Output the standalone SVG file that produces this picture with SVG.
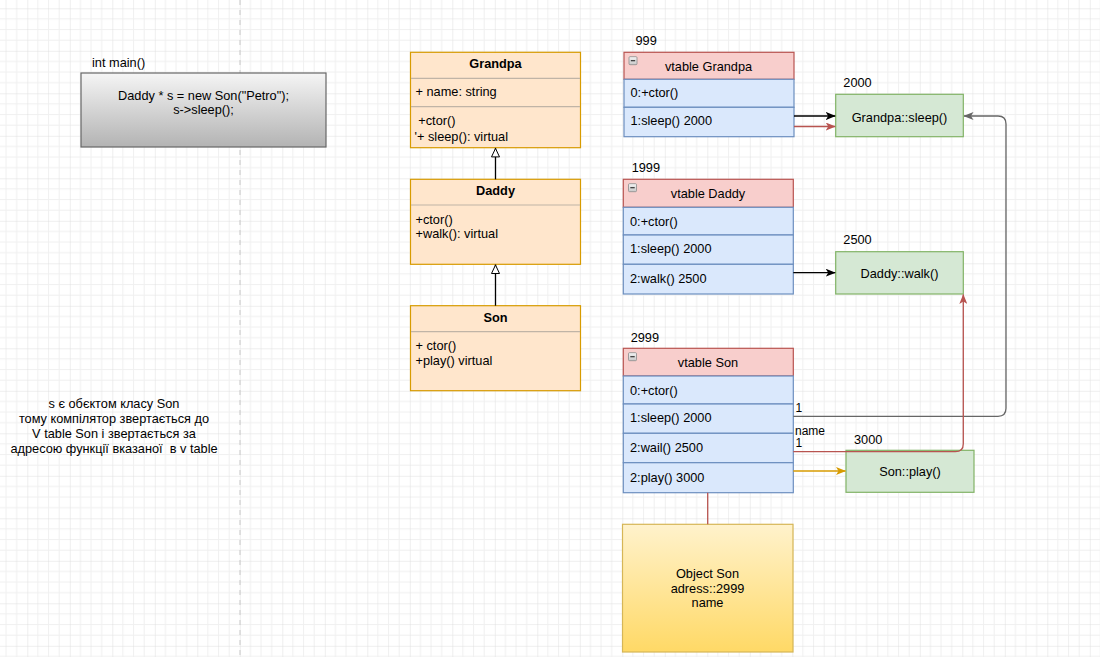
<svg xmlns="http://www.w3.org/2000/svg" width="1100" height="657" viewBox="0 0 1100 657">
  <defs>
    <!-- drawing grid: minor every 10.625px, major every 42.5px -->
    <pattern id="grid" patternUnits="userSpaceOnUse" x="27.3" y="8.3" width="42.5" height="42.5">
      <path d="M10.625,0 V42.5 M21.25,0 V42.5 M31.875,0 V42.5 M0,10.625 H42.5 M0,21.25 H42.5 M0,31.875 H42.5" stroke="#f0f0f0" stroke-width="1" fill="none"/>
      <path d="M0,0 V42.5 M0,0 H42.5" stroke="#dedede" stroke-width="1" fill="none"/>
    </pattern>
    <linearGradient id="gradMain" x1="0" y1="0" x2="0" y2="1">
      <stop offset="0" stop-color="#f5f5f5"/>
      <stop offset="1" stop-color="#b3b3b3"/>
    </linearGradient>
    <linearGradient id="gradObj" x1="0" y1="0" x2="0" y2="1">
      <stop offset="0" stop-color="#fff2cc"/>
      <stop offset="1" stop-color="#ffd966"/>
    </linearGradient>
    <linearGradient id="gradIcon" x1="0" y1="0" x2="0" y2="1">
      <stop offset="0" stop-color="#f4f4f4"/>
      <stop offset="1" stop-color="#c8c8c8"/>
    </linearGradient>
    <marker id="arrBlack" viewBox="0 0 10 8" refX="9.5" refY="4" markerWidth="10" markerHeight="8" markerUnits="userSpaceOnUse" orient="auto">
      <path d="M0,0 L10,4 L0,8 L2.5,4 z" fill="#000"/>
    </marker>
    <marker id="arrRed" viewBox="0 0 10 8" refX="9.5" refY="4" markerWidth="10" markerHeight="8" markerUnits="userSpaceOnUse" orient="auto">
      <path d="M0,0 L10,4 L0,8 L2.5,4 z" fill="#b85450"/>
    </marker>
    <marker id="arrGray" viewBox="0 0 10 8" refX="9.5" refY="4" markerWidth="10" markerHeight="8" markerUnits="userSpaceOnUse" orient="auto">
      <path d="M0,0 L10,4 L0,8 L2.5,4 z" fill="#666"/>
    </marker>
    <marker id="arrOrange" viewBox="0 0 10 8" refX="9.5" refY="4" markerWidth="10" markerHeight="8" markerUnits="userSpaceOnUse" orient="auto">
      <path d="M0,0 L10,4 L0,8 L2.5,4 z" fill="#d79b00"/>
    </marker>
    <marker id="inherit" viewBox="0 0 10 10" refX="10" refY="5" markerWidth="10" markerHeight="10" markerUnits="userSpaceOnUse" orient="auto">
      <path d="M1,1 L9.5,5 L1,9 z" fill="#fff" stroke="#000" stroke-width="1"/>
    </marker>
  </defs>
  <style>
    text { font-family: "Liberation Sans", Arial, "Noto Sans", sans-serif; font-size: 12.75px; fill: #000; white-space: pre; }
    .c { text-anchor: middle; }
    .b { font-weight: bold; }
    .lbl { font-size: 12px; }
    .cls { fill: #ffe6cc; stroke: #d79b00; stroke-width: 1.2; }
    .div { stroke: #c0b4a6; stroke-width: 1.2; }
    .vhead { fill: #f8cecc; stroke: #b85450; stroke-width: 1.2; }
    .vrow { fill: #dae8fc; stroke: #6c8ebf; stroke-width: 1.2; }
    .fn { fill: #d5e8d4; stroke: #82b366; stroke-width: 1.2; }
    .edge { fill: none; stroke-width: 1.3; }
  </style>

  <rect width="1100" height="657" fill="#fff"/>
  <rect width="1100" height="657" fill="url(#grid)"/>
  <!-- page break -->
  <line x1="240" y1="0" x2="240" y2="657" stroke="#c8c8c8" stroke-width="1" stroke-dasharray="5,5"/>

  <g id="main">
    <text x="92" y="66.5">int main()</text>
    <rect x="81" y="73" width="245" height="74" fill="url(#gradMain)" stroke="#666" stroke-width="1.2"/>
    <text class="c" x="203.5" y="99.5">Daddy * s = new Son("Petro");</text>
    <text class="c" x="203.5" y="114">s-&gt;sleep();</text>
  </g>

  <g id="note">
    <text class="c" x="114" y="408.3">s є обєктом класу Son</text>
    <text class="c" x="114" y="423.3">тому компілятор звертається до</text>
    <text class="c" x="114" y="438.3">V table Son і звертається за</text>
    <text class="c" x="114" y="453.3" xml:space="preserve">адресою функції вказаної  в v table</text>
  </g>

  <g id="class-grandpa">
    <rect class="cls" x="410.5" y="52.3" width="170" height="95.4"/>
    <line class="div" x1="411" y1="78.3" x2="580" y2="78.3"/>
    <line class="div" x1="411" y1="106.7" x2="580" y2="106.7"/>
    <text class="c b" x="495.5" y="68.3">Grandpa</text>
    <text x="415.5" y="95.7">+ name: string</text>
    <text x="418.3" y="125">+ctor()</text>
    <text x="414.5" y="141">'+ sleep(): virtual</text>
  </g>

  <g id="class-daddy">
    <rect class="cls" x="410.5" y="179.3" width="170" height="85"/>
    <line class="div" x1="411" y1="205" x2="580" y2="205"/>
    <text class="c b" x="495.5" y="195">Daddy</text>
    <text x="415.5" y="224">+ctor()</text>
    <text x="415.5" y="238.3">+walk(): virtual</text>
  </g>

  <g id="class-son">
    <rect class="cls" x="410.5" y="305.7" width="170" height="85"/>
    <line class="div" x1="411" y1="331.7" x2="580" y2="331.7"/>
    <text class="c b" x="495.5" y="321.7">Son</text>
    <text x="415.5" y="350">+ ctor()</text>
    <text x="415.5" y="365">+play() virtual</text>
  </g>

  <g id="vtable-grandpa">
    <text x="635.5" y="45">999</text>
    <rect class="vhead" x="624" y="52.3" width="170" height="27"/>
    <rect x="629" y="56.7" width="8" height="8" rx="1" fill="url(#gradIcon)" stroke="#8a8a8a" stroke-width="0.8"/>
    <line x1="630.8" y1="60.7" x2="635.2" y2="60.7" stroke="#333" stroke-width="1.2"/>
    <text class="c" x="708.5" y="70.7">vtable Grandpa</text>
    <rect class="vrow" x="624" y="79.3" width="170" height="28"/>
    <text x="630.5" y="97.3">0:+ctor()</text>
    <rect class="vrow" x="624" y="107.3" width="170" height="29.4"/>
    <text x="630.5" y="125">1:sleep() 2000</text>
  </g>

  <g id="fn-grandpa-sleep">
    <text x="843.3" y="86.7">2000</text>
    <rect class="fn" x="835.7" y="94.3" width="127.6" height="42.4"/>
    <text class="c" x="899.5" y="121.7">Grandpa::sleep()</text>
  </g>

  <g id="vtable-daddy">
    <text x="631.7" y="172.3">1999</text>
    <rect class="vhead" x="623.3" y="179.3" width="170" height="28"/>
    <rect x="628.5" y="183.7" width="8" height="8" rx="1" fill="url(#gradIcon)" stroke="#8a8a8a" stroke-width="0.8"/>
    <line x1="630.3" y1="187.7" x2="634.7" y2="187.7" stroke="#333" stroke-width="1.2"/>
    <text class="c" x="708" y="198.3">vtable Daddy</text>
    <rect class="vrow" x="623.3" y="207.3" width="170" height="27.7"/>
    <text x="630" y="226">0:+ctor()</text>
    <rect class="vrow" x="623.3" y="235" width="170" height="29.3"/>
    <text x="630" y="253.3">1:sleep() 2000</text>
    <rect class="vrow" x="623.3" y="264.3" width="170" height="29.7"/>
    <text x="630" y="282.7">2:walk() 2500</text>
  </g>

  <g id="fn-daddy-walk">
    <text x="843.3" y="244.3">2500</text>
    <rect class="fn" x="835.7" y="251.7" width="127.6" height="42.3"/>
    <text class="c" x="899.5" y="277.7">Daddy::walk()</text>
  </g>

  <g id="vtable-son">
    <text x="630.7" y="341.7">2999</text>
    <rect class="vhead" x="623.3" y="348.3" width="170" height="27.7"/>
    <rect x="628.5" y="352.7" width="8" height="8" rx="1" fill="url(#gradIcon)" stroke="#8a8a8a" stroke-width="0.8"/>
    <line x1="630.3" y1="356.7" x2="634.7" y2="356.7" stroke="#333" stroke-width="1.2"/>
    <text class="c" x="708" y="366.7">vtable Son</text>
    <rect class="vrow" x="623.3" y="376" width="170" height="28"/>
    <text x="630" y="395">0:+ctor()</text>
    <rect class="vrow" x="623.3" y="404" width="170" height="29.3"/>
    <text x="630" y="421.7">1:sleep() 2000</text>
    <rect class="vrow" x="623.3" y="433.3" width="170" height="29.4"/>
    <text x="630" y="452.3">2:wail() 2500</text>
    <rect class="vrow" x="623.3" y="462.7" width="170" height="30"/>
    <text x="630" y="481.7">2:play() 3000</text>
  </g>

  <g id="fn-son-play">
    <text x="854" y="444">3000</text>
    <rect class="fn" x="846" y="450.3" width="128" height="42"/>
    <text class="c" x="910" y="475.7">Son::play()</text>
  </g>

  <g id="object-son">
    <rect x="622.5" y="524.3" width="170.5" height="127.7" fill="url(#gradObj)" stroke="#d6b656" stroke-width="1.2"/>
    <text class="c" x="707.5" y="578.3">Object Son</text>
    <text class="c" x="707.5" y="593">adress::2999</text>
    <text class="c" x="707.5" y="607">name</text>
  </g>

  <g id="connectors">
    <!-- inheritance -->
    <line class="edge" stroke="#000" x1="495.5" y1="179.3" x2="495.5" y2="147.9" marker-end="url(#inherit)"/>
    <line class="edge" stroke="#000" x1="495.5" y1="305.7" x2="495.5" y2="264.5" marker-end="url(#inherit)"/>
    <!-- vtable slots to functions -->
    <line class="edge" stroke="#000" x1="794" y1="116" x2="835.2" y2="116" marker-end="url(#arrBlack)"/>
    <line class="edge" stroke="#b85450" x1="794" y1="126.5" x2="835.2" y2="126.5" marker-end="url(#arrRed)"/>
    <line class="edge" stroke="#000" x1="793.3" y1="272.7" x2="835.2" y2="272.7" marker-end="url(#arrBlack)"/>
    <path class="edge" stroke="#666" d="M793.3,416.3 H998 Q1006,416.3 1006,408.3 V124 Q1006,116 998,116 H964" marker-end="url(#arrGray)"/>
    <path class="edge" stroke="#b85450" d="M793.3,451.7 H955.3 Q963.3,451.7 963.3,443.7 V294.5" marker-end="url(#arrRed)"/>
    <line class="edge" stroke="#d79b00" x1="793.3" y1="471" x2="845.5" y2="471" marker-end="url(#arrOrange)"/>
    <line class="edge" stroke="#b85450" x1="707.7" y1="492.7" x2="707.7" y2="524.3"/>
    <text class="lbl" x="795.5" y="412">1</text>
    <text class="lbl" x="795" y="434.5">name</text>
    <text class="lbl" x="795.5" y="446.5">1</text>
  </g>
</svg>
